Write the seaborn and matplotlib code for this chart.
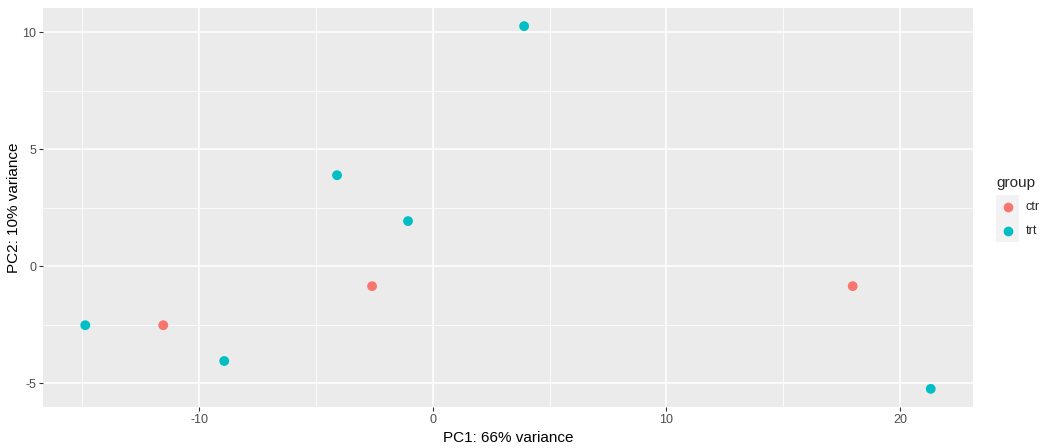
import matplotlib
matplotlib.use("Agg")
import matplotlib.pyplot as plt
from matplotlib.patches import Rectangle
from matplotlib.lines import Line2D
from matplotlib.ticker import MultipleLocator
import seaborn as sns
import pandas as pd

# Data
pc1 = [3.91, -4.10, -1.06, -2.60, -14.88, -11.54, -8.93, 17.98, 21.32]
pc2 = [10.26, 3.89, 1.93, -0.85, -2.52, -2.52, -4.05, -0.85, -5.24]
group = ["trt", "trt", "trt", "ctr", "trt", "ctr", "trt", "ctr", "trt"]
groups = ["ctr", "trt"]
colors = ["#F8766D", "#00BFC4"]
x_ticks = [-10, 0, 10, 20]
y_ticks = [-5, 0, 5, 10]
x_label = "PC1: 66% variance"
y_label = "PC2: 10% variance"
legend_title = "group"

df = pd.DataFrame({"PC1": pc1, "PC2": pc2, "group": group})

sns.set_theme(style="darkgrid")
plt.rcParams["font.family"] = ["Liberation Sans", "DejaVu Sans"]
plt.rcParams["axes.unicode_minus"] = False

W, H = 1045, 448
fig = plt.figure(figsize=(W / 100, H / 100), dpi=100)
left, right, top, bottom = 43, 973, 8, 407
ax = fig.add_axes([left / W, 1 - bottom / H, (right - left) / W, (bottom - top) / H])

palette = dict(zip(groups, colors))
sns.scatterplot(data=df, x="PC1", y="PC2", hue="group", hue_order=groups,
                palette=palette, s=50, edgecolor="none", legend=False, ax=ax, zorder=3)

# limits with 5% expansion like ggplot
xr = max(pc1) - min(pc1)
yr = max(pc2) - min(pc2)
ax.set_xlim(min(pc1) - 0.05 * xr, max(pc1) + 0.05 * xr)
ax.set_ylim(min(pc2) - 0.05 * yr, max(pc2) + 0.05 * yr)

ax.set_facecolor("#EBEBEB")
ax.set_xticks(x_ticks)
ax.set_yticks(y_ticks)
ax.xaxis.set_minor_locator(MultipleLocator(5))
ax.yaxis.set_minor_locator(MultipleLocator(2.5))
ax.grid(which="major", color="white", linewidth=1.1)
ax.grid(which="minor", color="white", linewidth=0.55)
for sp in ax.spines.values():
    sp.set_visible(False)
ax.tick_params(which="major", length=3, width=0.8, color="#333333",
               labelsize=9, labelcolor="#4D4D4D", pad=2, bottom=True, left=True)
ax.tick_params(which="minor", length=0)
ax.set_xlabel(x_label, fontsize=11, color="black", labelpad=3.5)
ax.set_ylabel(y_label, fontsize=11, color="black", labelpad=1)

# Legend drawn in ggplot style
fig.text(996 / W, 1 - 183 / H, legend_title, fontsize=11, va="center", ha="left")
fig.add_artist(Rectangle((996 / W, 1 - 242 / H), 23 / W, 47 / H,
                         transform=fig.transFigure, facecolor="#F2F2F2", edgecolor="none"))
for i, (g, c) in enumerate(zip(groups, colors)):
    yc = 1 - (207.5 + 23 * i) / H
    fig.add_artist(Line2D([1007.7 / W], [yc], marker="o", color=c, markersize=7,
                          markeredgewidth=0, linestyle="none", transform=fig.transFigure))
    fig.text(1026 / W, yc, g, fontsize=9, va="center", ha="left")

fig.savefig("out.png", dpi=100)
